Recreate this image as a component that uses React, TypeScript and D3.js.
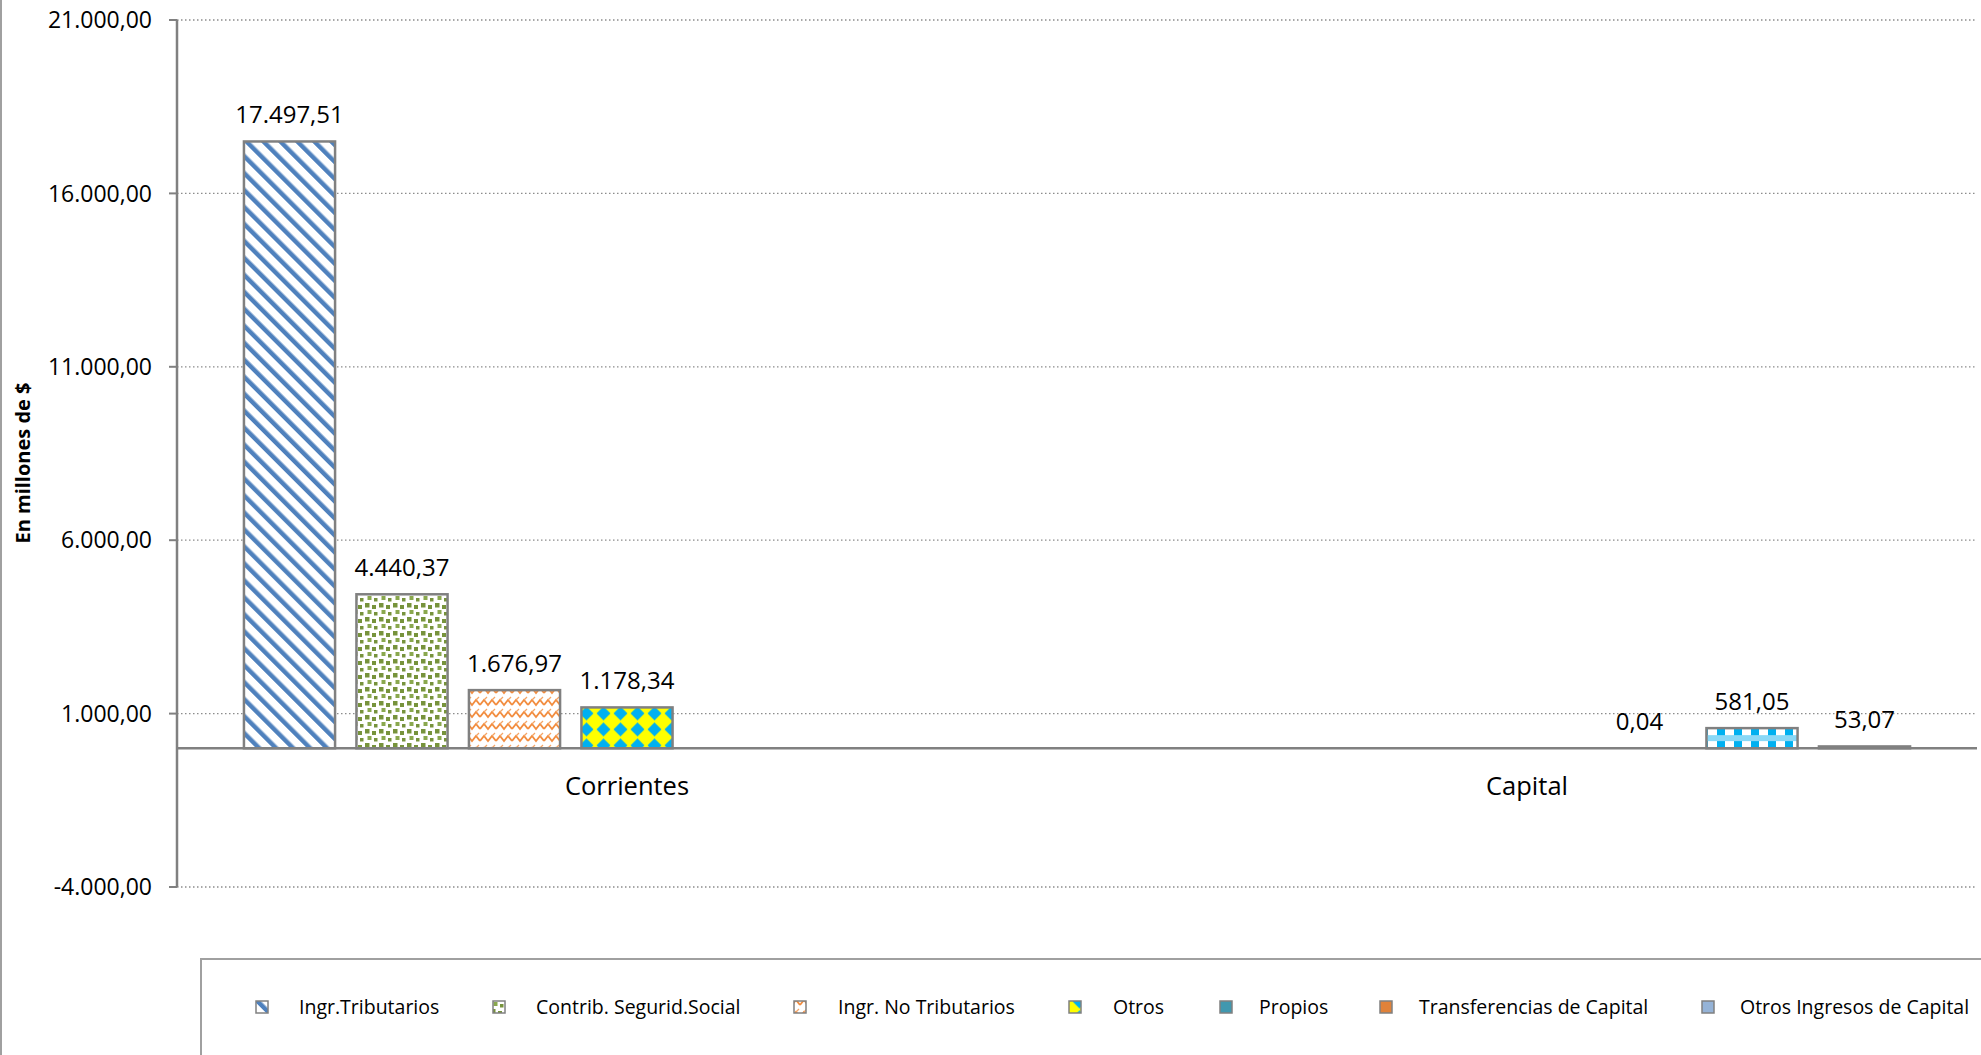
import { scaleLinear, scaleBand } from "d3";

const categories = ["Corrientes", "Capital"];
const series = [
  "Ingr.Tributarios",
  "Contrib. Segurid.Social",
  "Ingr. No Tributarios",
  "Otros",
  "Propios",
  "Transferencias de Capital",
  "Otros Ingresos de Capital",
];
// one value per series, null = no bar in that category
const corrientes = [17497.51, 4440.37, 1676.97, 1178.34, null, null, null];
const capital = [null, null, null, null, 0.04, 581.05, 53.07];
const yTicks = [-4000, 1000, 6000, 11000, 16000, 21000];

const valuesByCategory: Record<string, (number | null)[]> = {
  Corrientes: corrientes,
  Capital: capital,
};

// fills per series (bars and legend keys)
const fills = [
  "url(#pTrib)",
  "url(#pContrib)",
  "url(#pNoTrib)",
  "url(#pOtros)",
  "#4198AF",
  "url(#pTransf)",
  "#8EA9CF",
];
const legendFills = [
  "url(#pTrib)",
  "url(#pContrib)",
  "url(#pNoTrib)",
  "url(#pOtros)",
  "#4198AF",
  "#E0823A",
  "#95B3D7",
];
const legendKeyX = [262, 499, 800, 1075, 1226, 1386, 1708];
const legendTextX = [299, 536, 838, 1113, 1259, 1419, 1740];

const W = 1981;
const H = 1055;
const left = 177;
const right = 1977;

const fmt = (v: number) =>
  v.toLocaleString("de-DE", { minimumFractionDigits: 2, maximumFractionDigits: 2 });

export default function App() {
  const y = scaleLinear().domain([-4000, 21000]).range([887, 20]);
  const x0 = scaleBand<string>().domain(categories).range([left, right]);
  const x1 = scaleBand<string>()
    .domain(series)
    .range([0, x0.bandwidth()])
    .paddingInner(0.19)
    .paddingOuter(0.595);

  const font = "'Open Sans', 'Noto Sans', sans-serif";
  const gray = "#808080";

  const transfY = y(capital[5] as number);

  return (
    <div style={{ position: "absolute", left: 0, top: 0, width: W, height: H, overflow: "hidden", background: "#fff" }}>
      <svg width={W} height={H} style={{ display: "block", fontFamily: font }}>
        <defs>
          <pattern id="pTrib" width="12" height="12" patternUnits="userSpaceOnUse" patternTransform="rotate(-45)">
            <rect width="12" height="12" fill="#fff" />
            <rect x="0" width="4.5" height="12" fill="#4F81BD" />
          </pattern>
          <pattern id="pContrib" width="14" height="14" patternUnits="userSpaceOnUse">
            <rect width="14" height="14" fill="#fff" />
            <rect x="1" y="1" width="4.5" height="4.5" fill="#77933C" />
            <rect x="8" y="3" width="4" height="4" fill="#77933C" />
            <rect x="3.5" y="8" width="4" height="4" fill="#8AA84E" />
            <rect x="10" y="10" width="3.5" height="3.5" fill="#77933C" />
          </pattern>
          <pattern id="pNoTrib" width="16" height="12" patternUnits="userSpaceOnUse">
            <rect width="16" height="12" fill="#fff" />
            <polyline points="0,9 4,4 8,9 12,4 16,9" fill="none" stroke="#F28C3E" strokeWidth="1.8" />
            <line x1="4" y1="4" x2="7" y2="1" stroke="#F5A566" strokeWidth="1.2" />
            <line x1="12" y1="4" x2="15" y2="1" stroke="#F5A566" strokeWidth="1.2" />
          </pattern>
          <pattern id="pOtros" width="17" height="16" patternUnits="userSpaceOnUse" x={0} y={y(1178.34) - 2}>
            <rect width="17" height="16" fill="#FFFF00" />
            <polygon points="8.5,1 15.5,8 8.5,15 1.5,8" fill="#00B0F0" />
          </pattern>
          <pattern id="pTransf" width="17" height="20" patternUnits="userSpaceOnUse" x={0} y={transfY}>
            <rect width="17" height="20" fill="#fff" />
            <rect x="0" y="0" width="8" height="7" fill="#00B0F0" />
            <rect x="0" y="7" width="17" height="6" fill="#8AD8F6" />
            <rect x="0" y="13" width="8" height="7" fill="#00B0F0" />
          </pattern>
        </defs>

        {/* outer frame line on left */}
        <line x1={1} x2={1} y1={0} y2={H} stroke="#A0A0A0" strokeWidth={2} />

        {/* grid */}
        {yTicks.map((t) => (
          <line
            key={t}
            x1={left}
            x2={right}
            y1={y(t)}
            y2={y(t)}
            stroke="#8c8c8c"
            strokeWidth={1.3}
            strokeDasharray="1.5 2.5"
          />
        ))}

        {/* bars */}
        {categories.map((c) =>
          valuesByCategory[c].map((v, i) => {
            if (v == null) return null;
            const bx = (x0(c) ?? 0) + (x1(series[i]) ?? 0);
            const top = y(Math.max(0, v));
            const h = Math.abs(y(v) - y(0));
            return (
              <g key={c + i}>
                {h > 0.5 && (
                  <rect
                    x={bx}
                    y={top}
                    width={x1.bandwidth()}
                    height={h}
                    fill={fills[i]}
                    stroke={gray}
                    strokeWidth={2.5}
                  />
                )}
                <text
                  x={bx + x1.bandwidth() / 2}
                  y={top - 18}
                  textAnchor="middle"
                  fontSize={24}
                  fill="#000"
                >
                  {fmt(v)}
                </text>
              </g>
            );
          })
        )}

        {/* zero line */}
        <line x1={left} x2={right} y1={y(0)} y2={y(0)} stroke={gray} strokeWidth={2.5} />

        {/* y axis */}
        <line x1={left} x2={left} y1={y(21000)} y2={y(-4000)} stroke={gray} strokeWidth={2.5} />
        {yTicks.map((t) => (
          <g key={"t" + t}>
            <line x1={left - 8} x2={left} y1={y(t)} y2={y(t)} stroke={gray} strokeWidth={2} />
            <text x={152} y={y(t)} dy="0.36em" textAnchor="end" fontSize={23} fill="#000">
              {fmt(t)}
            </text>
          </g>
        ))}
        <text
          transform={`translate(30, 463) rotate(-90)`}
          textAnchor="middle"
          fontSize={20}
          fontWeight="bold"
          fill="#000"
        >
          En millones de $
        </text>

        {/* category labels */}
        {categories.map((c) => (
          <text
            key={c}
            x={(x0(c) ?? 0) + x0.bandwidth() / 2}
            y={795}
            textAnchor="middle"
            fontSize={25.5}
            fill="#000"
          >
            {c}
          </text>
        ))}

        {/* legend */}
        <rect x={201} y={959} width={W} height={200} fill="#fff" stroke="#A0A0A0" strokeWidth={2} />
        {series.map((s, i) => (
          <g key={s}>
            <rect
              x={legendKeyX[i] - 6}
              y={1001}
              width={12}
              height={12}
              fill={legendFills[i]}
              stroke={gray}
              strokeWidth={1.5}
            />
            <text x={legendTextX[i]} y={1007} dy="0.36em" fontSize={19.5} fill="#000">
              {s}
            </text>
          </g>
        ))}
      </svg>
    </div>
  );
}
